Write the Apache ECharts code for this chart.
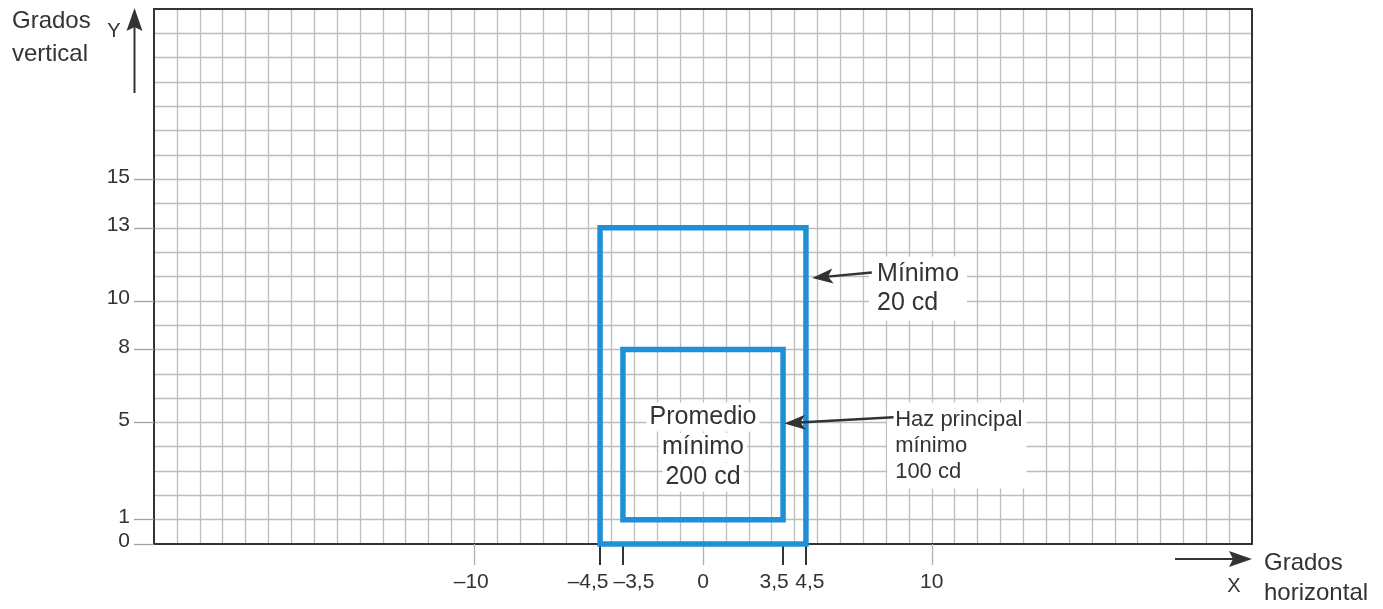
<!DOCTYPE html>
<html><head><meta charset="utf-8">
<script src="https://cdn.jsdelivr.net/npm/echarts@6/dist/echarts.min.js"></script>
<style>html,body{margin:0;padding:0;background:#fff}#c{width:1383px;height:609px}</style>
</head><body><div id="c"></div>
<script>
// ---- data ----
const xRange = [-24, 24];
const yRange = [0, 22];
const xTickValues = [-10, -4.5, -3.5, 0, 3.5, 4.5, 10];
const xDarkTicks = [-4.5, -3.5, 3.5, 4.5];
const xGreyTicks = [-10, 0, 10];
const yTickValues = [0, 1, 5, 8, 10, 13, 15];
// zones: [xMin, yMin, xMax, yMax]
const zoneOuter = [-4.5, 0, 4.5, 13];
const zoneInner = [-3.5, 1, 3.5, 8];
// arrows: [tailX, tailY, tipX, tipY]
const arrowMinimo = [7.38, 11.16, 4.77, 10.94];
const arrowHaz = [8.33, 5.21, 3.56, 4.96];
// notes
const noteLabels = ['Mínimo\n20 cd', 'Haz principal\nmínimo\n100 cd', 'Promedio', 'mínimo', '200 cd'];
const noteX = [7.26, 8.05, 0, 0, 0];
const noteY = [10.51, 4.05, 5.22, 3.97, 2.74];

// ---- styling ----
const TXT = '#333333';
const FONT = '"Liberation Sans", Arial, sans-serif';
const TICKSIZE = 21;
const fmt = v => String(v).replace('-', '\u2013').replace('.', ',');
// horizontal nudge (px) of some x tick labels, as in the original drawing
const xLabelNudge = {'-10': -3, '-4.5': -12, '-3.5': 11, '3.5': -9, '4.5': 4};
const xRich = {};
const xFmt = v => {
  const s = xLabelNudge[String(v)] || 0;
  const key = 'n' + (s < 0 ? 'm' + (-s) : 'p' + s);
  if (!xRich[key]) {
    xRich[key] = {fontFamily: FONT, fontSize: TICKSIZE, color: TXT,
      padding: s < 0 ? [0, -2 * s, 0, 0] : [0, 0, 0, 2 * s]};
  }
  return '{' + key + '|' + fmt(v) + '}';
};
Object.keys(xLabelNudge).concat(['0']).forEach(k => xFmt(Number(k)));

const chart = echarts.init(document.getElementById('c'), null, {renderer: 'canvas'});

const baseX = {type: 'value', min: xRange[0], max: xRange[1], axisLine: {show: false, onZero: false}, axisTick: {show: false}, axisLabel: {show: false}, splitLine: {show: false}};
const baseY = {type: 'value', min: yRange[0], max: yRange[1], axisLine: {show: false, onZero: false}, axisTick: {show: false}, axisLabel: {show: false}, splitLine: {show: false}};

const noteStyle = [
  {font: '25px ' + FONT, lineHeight: 29, align: 'left', padding: [3, 8, 3, 8]},
  {font: '22px ' + FONT, lineHeight: 26, align: 'left', padding: [4, 4, 4, 8]},
  {font: '25px ' + FONT, lineHeight: 29, align: 'center', padding: [0, 3, 0, 3]},
  {font: '25px ' + FONT, lineHeight: 29, align: 'center', padding: [0, 3, 0, 3]},
  {font: '25px ' + FONT, lineHeight: 29, align: 'center', padding: [0, 3, 0, 3]}
];

const option = {
  animation: false,
  backgroundColor: '#fff',
  grid: {left: 154, right: 131, top: 9, bottom: 65, containLabel: false},
  xAxis: [
    Object.assign({}, baseX, {position: 'bottom', interval: 1,
      axisLine: {show: true, onZero: false, lineStyle: {color: '#333', width: 2}},
      splitLine: {show: true, showMinLine: false, showMaxLine: false, lineStyle: {color: '#bdbdbd', width: 1.3}}}),
    Object.assign({}, baseX, {position: 'bottom',
      axisTick: {show: true, customValues: xDarkTicks, length: 21, lineStyle: {color: '#333', width: 2}},
      axisLabel: {show: true, customValues: xTickValues, margin: 28, formatter: xFmt, rich: xRich,
        color: TXT, fontFamily: FONT, fontSize: TICKSIZE}}),
    Object.assign({}, baseX, {position: 'bottom',
      axisTick: {show: true, customValues: xGreyTicks, length: 21, lineStyle: {color: '#b0b0b0', width: 1.3}}}),
    Object.assign({}, baseX, {position: 'top',
      axisLine: {show: true, onZero: false, lineStyle: {color: '#333', width: 2}}})
  ],
  yAxis: [
    Object.assign({}, baseY, {position: 'left', interval: 1,
      axisLine: {show: true, onZero: false, lineStyle: {color: '#333', width: 2}},
      splitLine: {show: true, showMinLine: false, showMaxLine: false, lineStyle: {color: '#bdbdbd', width: 1.3}}}),
    Object.assign({}, baseY, {position: 'left',
      axisTick: {show: true, customValues: yTickValues, length: 20, lineStyle: {color: '#a0a0a0', width: 1.3}},
      axisLabel: {show: true, customValues: yTickValues, margin: 24, formatter: v => '{y|' + fmt(v) + '}',
        rich: {y: {fontFamily: FONT, fontSize: TICKSIZE, color: TXT, padding: [0, 0, 5, 0]}},
        color: TXT, fontFamily: FONT, fontSize: TICKSIZE}}),
    Object.assign({}, baseY, {position: 'right',
      axisLine: {show: true, onZero: false, lineStyle: {color: '#333', width: 2}}})
  ],
  series: [
    {
      type: 'custom', name: 'zones', xAxisIndex: 0, yAxisIndex: 0, silent: true, clip: false, z: 3,
      data: [zoneOuter, zoneInner],
      renderItem: (params, api) => {
        const p1 = api.coord([api.value(0), api.value(1)]);
        const p2 = api.coord([api.value(2), api.value(3)]);
        return {type: 'rect', shape: {x: p1[0], y: p2[1], width: p2[0] - p1[0], height: p1[1] - p2[1]},
          style: {fill: 'none', stroke: '#1f8fd8', lineWidth: 5.5}};
      }
    },
    {
      type: 'custom', name: 'notes', xAxisIndex: 0, yAxisIndex: 0, silent: true, clip: false, z: 4,
      data: noteX.map((x, i) => [x, noteY[i], i]),
      renderItem: (params, api) => {
        const i = api.value(2);
        const p = api.coord([api.value(0), api.value(1)]);
        const s = noteStyle[i];
        return {type: 'text', x: p[0], y: p[1],
          style: {text: noteLabels[i], font: s.font, lineHeight: s.lineHeight, fill: TXT, align: s.align,
            verticalAlign: 'middle', backgroundColor: '#fff', padding: s.padding}};
      }
    },
    {
      type: 'custom', name: 'arrows', xAxisIndex: 0, yAxisIndex: 0, silent: true, clip: false, z: 5,
      data: [arrowMinimo, arrowHaz],
      renderItem: (params, api) => {
        const t = api.coord([api.value(0), api.value(1)]);
        const h = api.coord([api.value(2), api.value(3)]);
        const dx = h[0] - t[0], dy = h[1] - t[1], L = Math.hypot(dx, dy), ux = dx / L, uy = dy / L;
        const HL = 21, HW = 7.5;
        const bx = h[0] - ux * HL, by = h[1] - uy * HL;
        return {type: 'group', children: [
          {type: 'line', shape: {x1: t[0], y1: t[1], x2: bx + ux * 6, y2: by + uy * 6}, style: {stroke: '#333', lineWidth: 2.5}},
          {type: 'polygon', shape: {points: [[h[0], h[1]], [bx - uy * HW, by + ux * HW], [bx + ux * 5, by + uy * 5], [bx + uy * HW, by - ux * HW]]}, style: {fill: '#333'}}
        ]};
      }
    }
  ],
  graphic: [
    {type: 'text', left: 12, top: 4.5, style: {text: 'Grados\nvertical', font: '24px ' + FONT, lineHeight: 33, fill: TXT}},
    {type: 'text', x: 114, y: 31, style: {text: 'Y', font: '20px ' + FONT, fill: TXT, align: 'center', verticalAlign: 'middle'}},
    {type: 'line', shape: {x1: 134.5, y1: 93, x2: 134.5, y2: 26}, style: {stroke: '#333', lineWidth: 2}},
    {type: 'polygon', shape: {points: [[134.5, 8], [126.5, 31], [134.5, 27], [142.5, 31]]}, style: {fill: '#333'}},
    {type: 'line', shape: {x1: 1175, y1: 559, x2: 1234, y2: 559}, style: {stroke: '#333', lineWidth: 2}},
    {type: 'polygon', shape: {points: [[1252, 559], [1229, 551], [1233, 559], [1229, 567]]}, style: {fill: '#333'}},
    {type: 'text', x: 1234, y: 586, style: {text: 'X', font: '20px ' + FONT, fill: TXT, align: 'center', verticalAlign: 'middle'}},
    {type: 'text', left: 1264, top: 548, style: {text: 'Grados\nhorizontal', font: '24px ' + FONT, lineHeight: 30, fill: TXT}}
  ]
};
chart.setOption(option);
</script>
</body></html>
